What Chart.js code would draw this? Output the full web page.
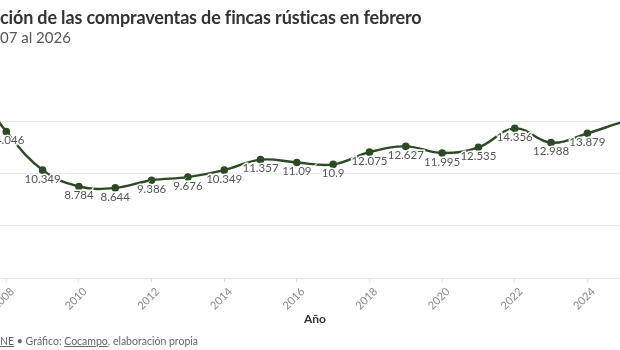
<!DOCTYPE html>
<html>
<head>
<meta charset="utf-8">
<script src="https://cdn.jsdelivr.net/npm/chart.js@4.4.1/dist/chart.umd.min.js"></script>
<style>
  html, body { margin:0; padding:0; background:#fff; }
  body { width:620px; height:350px; overflow:hidden; position:relative; font-family:"Lato","Noto Sans",sans-serif; }
  #wrap { position:absolute; left:-50px; top:0; width:730px; height:350px; }
  .txt { position:absolute; white-space:nowrap; z-index:2; }
  #title { top:6px; font-size:18px; font-weight:700; color:#333; letter-spacing:-0.15px; }
  #subtitle { top:28px; font-size:15px; color:#555; }
  #source { top:335px; font-size:10.5px; color:#666; }
  #source u { text-decoration: underline; }
</style>
</head>
<body>
<div id="title" class="txt"><span class="hid">Evolu</span>ción de las compraventas de fincas rústicas en febrero</div>
<div id="subtitle" class="txt"><span class="hid">Del 20</span>07 al 2026</div>
<div id="source" class="txt"><span class="hid">Fuente: <u>I</u></span><u>NE</u> • Gráfico: <u>Cocampo</u>, elaboración propia</div>
<div id="wrap"><canvas id="c"></canvas></div>
<script>
// shift texts so the hidden prefix falls left of the page edge (the reference is a crop)
document.querySelectorAll('.txt').forEach(function(el){
  var h = el.querySelector('.hid');
  el.style.left = (-h.getBoundingClientRect().width) + 'px';
});

const years = ["2007","2008","2009","2010","2011","2012","2013","2014","2015","2016","2017","2018","2019","2020","2021","2022","2023","2024","2025","2026"];
const sales = [19.0, 14.046, 10.349, 8.784, 8.644, 9.386, 9.676, 10.349, 11.357, 11.09, 10.9, 12.075, 12.627, 11.995, 12.535, 14.356, 12.988, 13.879, 15.0, 15.9];
const yTicks = [0, 5, 10, 15];

const lineColor = '#2e4a25';

const labelPlugin = {
  id: 'pointLabels',
  afterDatasetsDraw(chart) {
    const ctx = chart.ctx;
    const meta = chart.getDatasetMeta(0);
    const n = meta.data.length;
    ctx.save();
    ctx.font = '11.5px "Lato", sans-serif';
    ctx.fillStyle = '#555';
    ctx.textBaseline = 'middle';
    meta.data.forEach(function(pt, i){
      const txt = String(sales[i]);
      let x = pt.x, y = pt.y + 9;
      ctx.textAlign = 'center';
      if (i >= n - 2) { // latest years labelled above-right of their point
        ctx.textAlign = 'left';
        x = pt.x + 6; y = pt.y - 10;
      }
      ctx.lineWidth = 3;
      ctx.strokeStyle = 'rgba(255,255,255,0.9)';
      ctx.strokeText(txt, x, y);
      ctx.fillText(txt, x, y);
    });
    ctx.restore();
  }
};

new Chart(document.getElementById('c'), {
  type: 'line',
  data: {
    labels: years,
    datasets: [{
      data: sales,
      borderColor: lineColor,
      backgroundColor: lineColor,
      borderWidth: 2.4,
      pointRadius: 2.6,
      pointHoverRadius: 2.6,
      tension: 0.4,
      fill: false
    }]
  },
  options: {
    responsive: true,
    maintainAspectRatio: false,
    animation: false,
    events: [],
    layout: { padding: { left: 20, right: 20, top: 80, bottom: 18 } },
    plugins: { legend: { display: false }, tooltip: { enabled: false } },
    scales: {
      x: {
        offset: false,
        grid: {
          drawOnChartArea: false,
          tickLength: 4,
          color: '#ddd'
        },
        border: { display: true, color: '#e6e6e6' },
        ticks: {
          autoSkip: false,
          minRotation: 45,
          maxRotation: 45,
          labelOffset: 6,
          color: '#888',
          font: { size: 11, family: '"Lato", sans-serif' },
          callback: function(val, idx) {
            const y = parseInt(years[idx], 10);
            return (y % 2 === 0) ? years[idx] : null;
          }
        },
        title: {
          display: true,
          text: 'Año',
          color: '#333',
          font: { size: 12, weight: 'bold', family: '"Lato", sans-serif' },
          padding: { top: 4, bottom: 6 }
        },
        afterFit: function(scale){ scale.height = 54; }
      },
      y: {
        min: 0,
        max: 19,
        afterBuildTicks: function(scale){ scale.ticks = yTicks.map(v => ({ value: v })); },
        grid: { color: '#e8e8e8', drawTicks: false },
        border: { display: false },
        ticks: { display: false },
        afterFit: function(scale){ scale.width = 0; }
      }
    }
  },
  plugins: [labelPlugin]
});
</script>
</body>
</html>
